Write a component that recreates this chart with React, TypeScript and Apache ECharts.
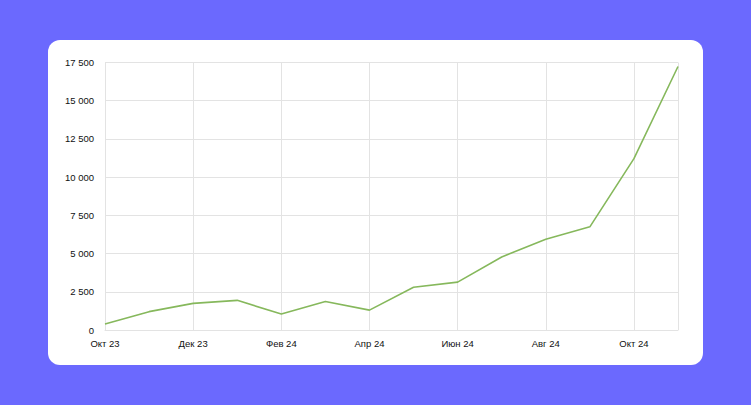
import React, { useEffect, useRef } from 'react';
import * as echarts from 'echarts';

const months: string[] = [
  'Окт 23', 'Ноя 23', 'Дек 23', 'Янв 24', 'Фев 24', 'Мар 24', 'Апр 24',
  'Май 24', 'Июн 24', 'Июл 24', 'Авг 24', 'Сен 24', 'Окт 24', 'Ноя 24',
];
const values: number[] = [
  390, 1200, 1740, 1940, 1045, 1870, 1300,
  2800, 3130, 4780, 5940, 6750, 11210, 17240,
];
const yTicks: number[] = [0, 2500, 5000, 7500, 10000, 12500, 15000, 17500];

const fmt = (v: number) => String(v).replace(/\B(?=(\d{3})+(?!\d))/g, ' ');

const App: React.FC = () => {
  const chartRef = useRef<HTMLDivElement | null>(null);

  useEffect(() => {
    if (!chartRef.current) return;
    const chart = echarts.init(chartRef.current, null, { renderer: 'svg' });
    const last = months.length - 1;
    const gridColor = '#e3e3e3';

    chart.setOption({
      animation: false,
      backgroundColor: '#6b69fe',
      textStyle: { fontFamily: 'Arial, "Liberation Sans", sans-serif' },
      graphic: [
        {
          type: 'rect',
          shape: { x: 48, y: 40, width: 655, height: 325, r: 12 },
          style: { fill: '#ffffff' },
          z: -10,
        },
      ],
      grid: { left: 105, right: 73, top: 62.5, bottom: 75 },
      xAxis: {
        type: 'category',
        data: months,
        boundaryGap: false,
        axisLine: { lineStyle: { color: gridColor } },
        axisTick: { show: false },
        axisLabel: {
          interval: 1,
          color: '#111',
          fontSize: 9.5,
          margin: 8,
        },
        splitLine: {
          show: true,
          interval: (i: number) => i % 2 === 0 || i === last,
          lineStyle: { color: gridColor },
        },
      },
      yAxis: {
        type: 'value',
        min: yTicks[0],
        max: yTicks[yTicks.length - 1],
        interval: 2500,
        axisLine: { show: false },
        axisTick: { show: false },
        axisLabel: {
          color: '#111',
          fontSize: 9.5,
          margin: 11,
          formatter: (v: number) => fmt(v),
        },
        splitLine: { lineStyle: { color: gridColor } },
      },
      series: [
        {
          type: 'line',
          data: values,
          showSymbol: false,
          lineStyle: { color: '#86b85c', width: 1.6 },
          itemStyle: { color: '#86b85c' },
        },
      ],
    });

    return () => {
      chart.dispose();
    };
  }, []);

  return (
    <div
      ref={chartRef}
      style={{ position: 'absolute', left: 0, top: 0, width: 751, height: 405 }}
    />
  );
};

export default App;
